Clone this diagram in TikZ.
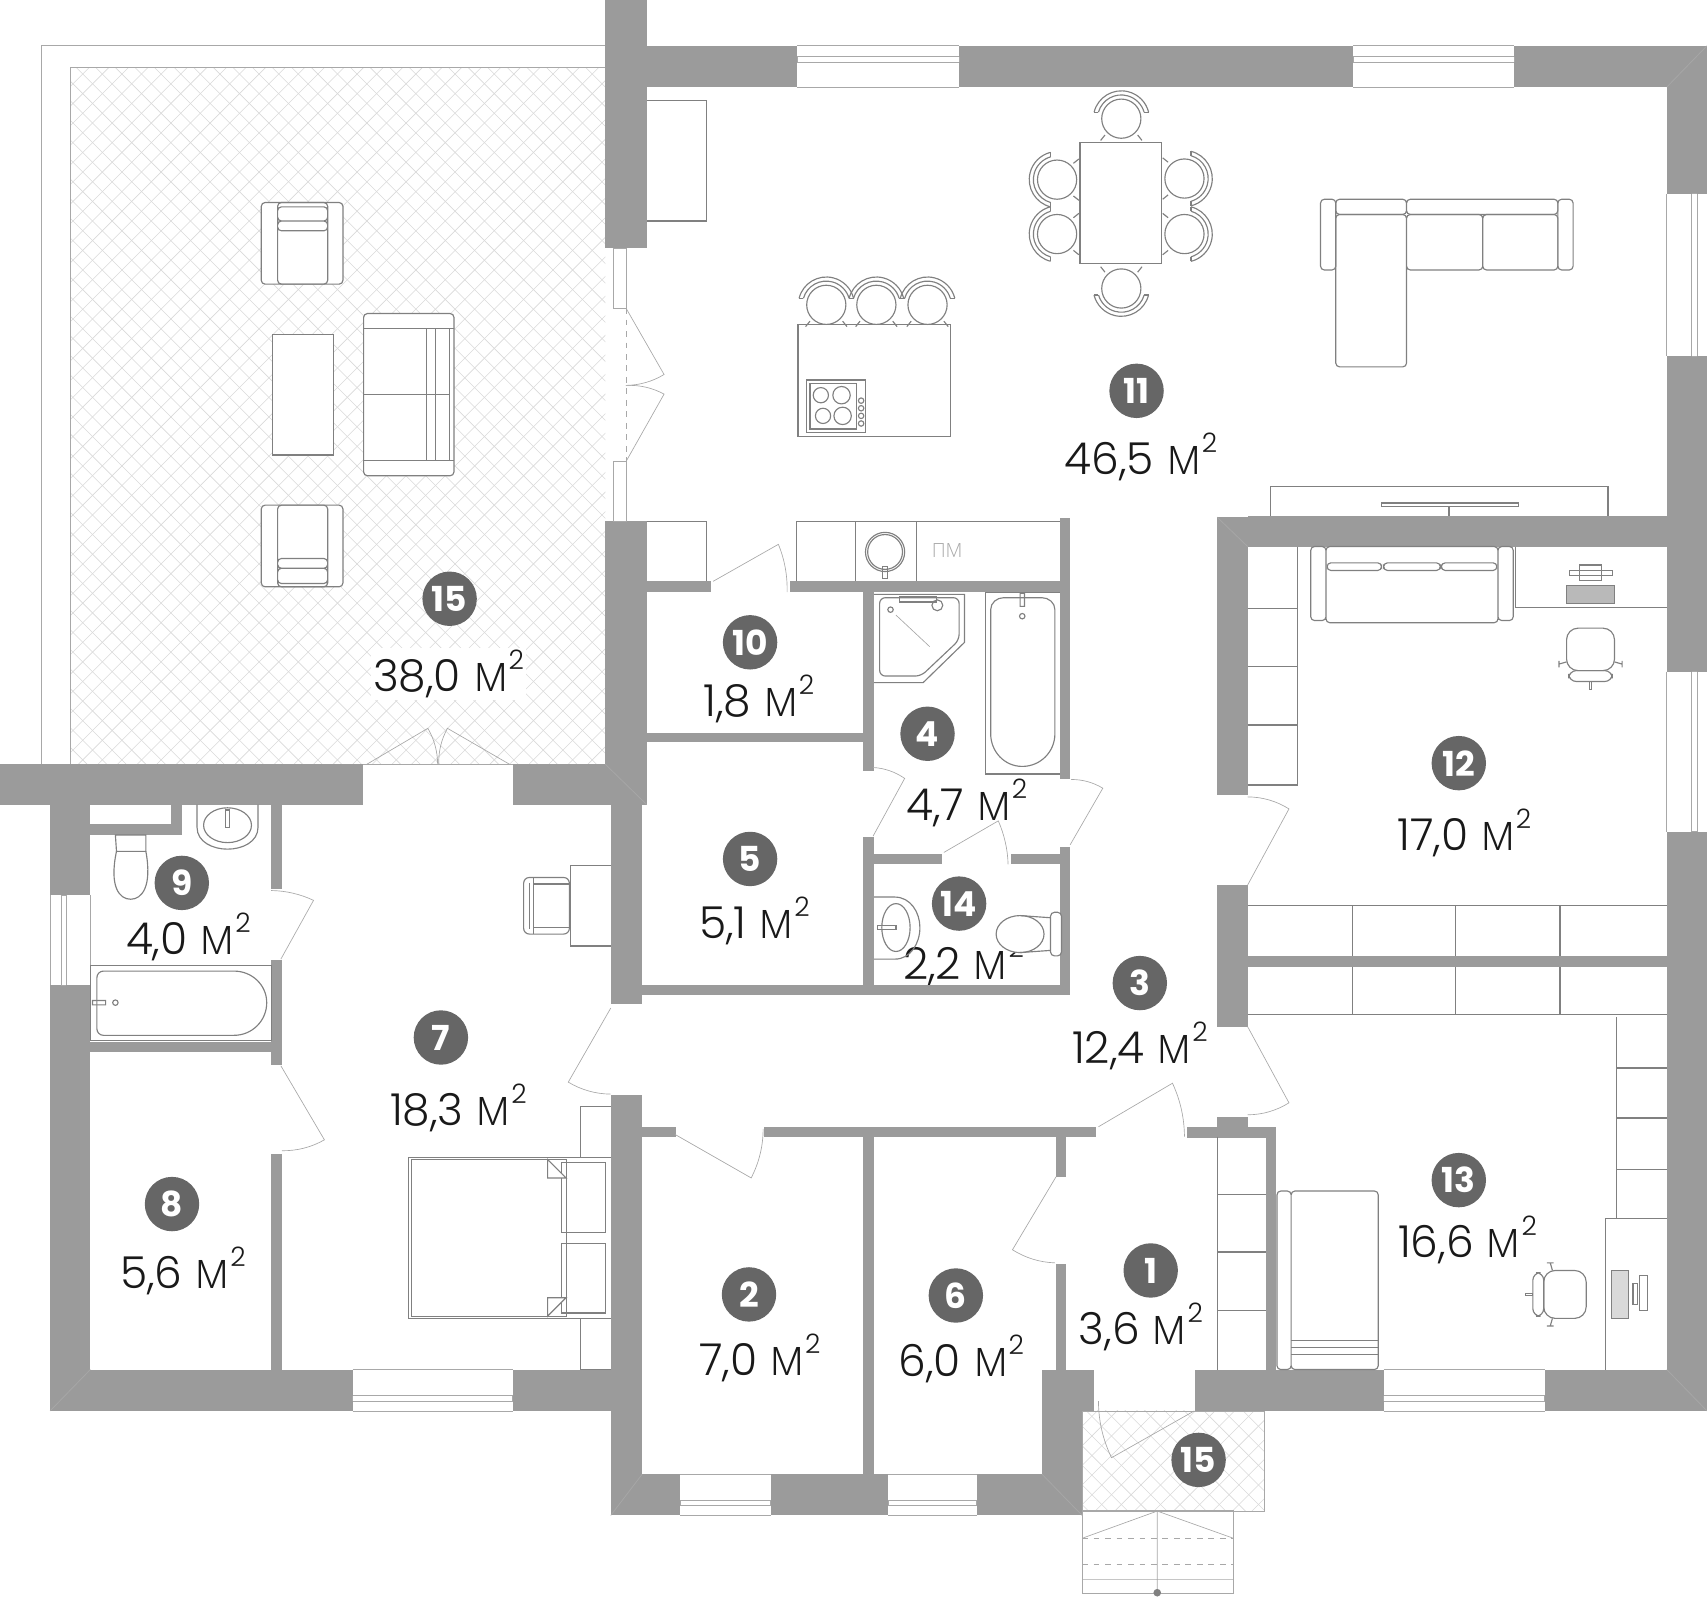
\documentclass[tikz,border=0pt]{standalone}
\usepackage{fontspec}
\setmainfont{Poppins}[UprightFont=* Light,BoldFont=* Bold]
\newfontfamily\unitfont[Scale=1.2]{Open Sans Light}
\usetikzlibrary{calc}
\definecolor{wallgray}{HTML}{9B9B9B}
\definecolor{badgegray}{HTML}{666666}
\definecolor{furngray}{HTML}{808080}
\definecolor{thingray}{HTML}{A8A8A8}
\definecolor{hatchgray}{HTML}{D9D9D9}
\tikzset{
wall/.style={fill=wallgray,draw=none},
furn/.style={draw=furngray,line width=0.6pt},
furnw/.style={furn,fill=white},
thinline/.style={draw=thingray,line width=0.35pt},
hatchline/.style={draw=hatchgray,line width=0.3pt},
badge/.style={shape=circle,fill=badgegray,text=white,minimum size=1cm,inner sep=0pt,font=\bfseries\fontsize{18}{18}\selectfont},
areatext/.style={inner sep=1pt,text=black!90,font=\fontsize{23}{23}\selectfont},
chair/.pic={
\draw[furn] (0,0) circle (18);
\draw[furn] (-25,-6) arc (194:346:25.8);
\draw[furn] (-21,-6) arc (196:344:21.8);
\draw[furn] (-25,-6) -- (-21,-6) (25,-6) -- (21,-6);
\draw[furn] (-15,15) -- (-19,20) (15,15) -- (19,20);
},
officechair/.pic={
\draw[furn,rounded corners=6] (-22,-21) rectangle (22,18);
\draw[furn,rounded corners=4] (-20,18) rectangle (20,28);
\draw[furn] (-22,10) -- (-29,12) (22,10) -- (29,12) (-29,9) -- (-29,15) (29,9) -- (29,15);
\draw[furn] (-1,28) rectangle (1,35);
}
}
\newcommand{\door}[3]{
\path #1 coordinate (dh) #2 coordinate (dt) #3 coordinate (de);
\coordinate (dc) at ($(dh)+0.536*(dt)-0.536*(dh)+0.536*(de)-0.536*(dh)$);
\draw[thinline] (dh) -- (dt) .. controls ($(dt)!0.667!(dc)$) and ($(de)!0.667!(dc)$) .. (de);
}
\newcommand{\hwin}[5]{
\fill[white] (#1,#3) rectangle (#2,#4);
\draw[thinline] (#1,#3) -- (#2,#3) (#1,#4) -- (#2,#4) (#1,#5) -- (#2,#5) (#1,#5+5) -- (#2,#5+5);
\draw[thinline] (#1,#5) -- (#1,#5+5) (#2,#5) -- (#2,#5+5);
}
\newcommand{\vwin}[5]{
\fill[white] (#3,#1) rectangle (#4,#2);
\draw[thinline] (#3,#1) -- (#3,#2) (#4,#1) -- (#4,#2) (#5,#1) -- (#5,#2) (#5+5,#1) -- (#5+5,#2);
\draw[thinline] (#5,#1) -- (#5+5,#1) (#5,#2) -- (#5+5,#2);
}
\newcommand{\hatcharea}[4]{
\begin{scope}
\clip (#1,#2) rectangle (#3,#4);
\foreach \d in {-1000,-982,...,1300} {\draw[hatchline] (\d,0) -- +(1500,1500);}
\foreach \d in {0,18,...,2700} {\draw[hatchline] (\d,0) -- +(-1500,1500);}
\end{scope}
\draw[thinline] (#1,#4) -- (#1,#2) -- (#3,#2);
}
\newcommand{\areatxt}[1]{#1 {\unitfont м}\raisebox{0.5em}{\fontsize{14}{14}\selectfont 2}}
\begin{document}
\begin{tikzpicture}[x=0.02cm,y=-0.02cm]
\useasboundingbox (0,0) rectangle (1568,1468);
% terraces
\hatcharea{65}{62}{556}{702}
\hatcharea{994}{1296}{1161}{1388}
\draw[thinline] (994,1388) -- (1161,1388) -- (1161,1296);
\draw[thinline] (38,702) -- (38,42) -- (556,42);
% room 14 text lies under the toilet
\node[areatext] (t14) at (885,884) {\areatxt{2,2}};
% outer walls
\fill[wall] (556,0) rectangle (594,228);
\fill[wall] (594,42) rectangle (732,80);
\fill[wall] (881,42) rectangle (1243,80);
\fill[wall] (1391,42) rectangle (1568,80);
\fill[wall] (1531,80) rectangle (1568,178);
\fill[wall] (1531,327) rectangle (1568,617);
\fill[wall] (1531,764) rectangle (1568,1296);
\fill[wall] (1098,1258) rectangle (1271,1296);
\fill[wall] (1419,1258) rectangle (1531,1296);
\fill[wall] (957,1258) rectangle (1005,1296);
\fill[wall] (957,1296) rectangle (994,1392);
\fill[wall] (897,1354) rectangle (957,1392);
\fill[wall] (708,1354) rectangle (816,1392);
\fill[wall] (561,1354) rectangle (625,1392);
\fill[wall] (561,1006) rectangle (590,1354);
\fill[wall] (46,1258) rectangle (324,1296);
\fill[wall] (471,1258) rectangle (561,1296);
\fill[wall] (46,739) rectangle (83,822);
\fill[wall] (46,905) rectangle (83,1258);
\fill[wall] (0,702) rectangle (333,739);
\fill[wall] (471,702) rectangle (556,739);
\fill[wall] (556,479) rectangle (594,739);
\fill[wall] (561,739) rectangle (590,922);
% inner walls
\fill[wall] (793,1044) rectangle (803,1354);
\fill[wall] (590,905) rectangle (983,914);
\fill[wall] (974,778) rectangle (983,905);
\fill[wall] (793,769) rectangle (803,905);
\fill[wall] (803,784) rectangle (865,794);
\fill[wall] (929,784) rectangle (974,794);
\fill[wall] (974,476) rectangle (983,716);
\fill[wall] (793,544) rectangle (803,708);
\fill[wall] (726,534) rectangle (974,544);
\fill[wall] (594,534) rectangle (653,544);
\fill[wall] (594,673) rectangle (793,682);
\fill[wall] (1118,475) rectangle (1146,730);
\fill[wall] (1146,474) rectangle (1531,502);
\fill[wall] (1118,813) rectangle (1146,943);
\fill[wall] (1146,878) rectangle (1531,888);
\fill[wall] (1118,1026) rectangle (1146,1035);
\fill[wall] (1090,1035) rectangle (1172,1045);
\fill[wall] (1163,1045) rectangle (1172,1258);
\fill[wall] (590,1035) rectangle (621,1044);
\fill[wall] (702,1035) rectangle (1007,1044);
\fill[wall] (970,1044) rectangle (979,1081);
\fill[wall] (970,1161) rectangle (979,1258);
\fill[wall] (249,739) rectangle (259,817);
\fill[wall] (249,882) rectangle (259,978);
\fill[wall] (249,1060) rectangle (259,1258);
\fill[wall] (83,957) rectangle (249,966);
\fill[wall] (83,757) rectangle (167,767);
\fill[wall] (157,739) rectangle (167,767);
% wall corners
\draw[thinline] (1531,80) -- (1568,42) (556,702) -- (594,739) (1118,475) -- (1146,502) (46,1296) -- (83,1258) (561,1392) -- (590,1354) (957,1354) -- (994,1392) (1531,1258) -- (1568,1296);
% windows
\hwin{732}{881}{42}{80}{52}
\hwin{1243}{1391}{42}{80}{52}
\hwin{324}{471}{1258}{1296}{1282}
\hwin{1271}{1419}{1258}{1296}{1282}
\hwin{625}{708}{1354}{1392}{1378}
\hwin{816}{897}{1354}{1392}{1378}
\vwin{178}{327}{1531}{1568}{1554}
\vwin{617}{764}{1531}{1568}{1554}
\vwin{822}{905}{46}{83}{56}
\draw[thinline] (563,228) rectangle (575,283) (563,424) rectangle (575,479);
\draw[thinline,dashed] (575,283) -- (575,424);
% doors
\door{(337,702)}{(393,669)}{(402,702)}
\door{(468,702)}{(411,669)}{(403,702)}
\draw[thinline] (333,702) -- (471,702);
\door{(575,283)}{(610,344)}{(575,354)}
\door{(575,424)}{(610,362)}{(575,354)}
\door{(655,534)}{(715,500)}{(723,544)}
\door{(802,768)}{(831,715)}{(802,705)}
\door{(983,776)}{(1013,724)}{(984,716)}
\door{(867,783)}{(917,754)}{(926,794)}
\door{(1146,813)}{(1184,743)}{(1146,732)}
\door{(1146,943)}{(1184,1013)}{(1146,1024)}
\door{(1009,1035)}{(1077,995)}{(1088,1044)}
\door{(970,1081)}{(930,1148)}{(969,1160)}
\door{(1097,1296)}{(1021,1339)}{(1009,1287)}
\door{(620,1042)}{(690,1082)}{(701,1037)}
\door{(561,926)}{(522,994)}{(561,1005)}
\door{(258,881)}{(288,827)}{(249,818)}
\door{(258,979)}{(298,1047)}{(259,1057)}
% terrace furniture
\draw[furnw] (250,307) rectangle (306,418);
\draw[furnw,rounded corners=2] (240,186) rectangle (315,261);
\draw[furn,rounded corners=2] (255,186) rectangle (301,261) (255,190) rectangle (301,203) (255,203) rectangle (301,212);
\draw[furnw,rounded corners=2] (240,464) rectangle (315,539);
\draw[furn,rounded corners=2] (255,464) rectangle (301,539) (255,513) rectangle (301,522) (255,522) rectangle (301,536);
\draw[furnw,rounded corners=2] (334,288) rectangle (417,437);
\draw[furn] (334,302) -- (417,302) (334,423) -- (417,423) (334,362) -- (413,362);
\draw[furn] (392,302) -- (392,423) (400,302) -- (400,423) (413,302) -- (413,423);
% kitchen and living room
\draw[furn] (594,92) -- (649,92) -- (649,203) -- (594,203);
\draw[furn] (594,479) -- (649,479) -- (649,534);
\draw[furn] (733,298) rectangle (873,401);
\draw[furn] (741,349) rectangle (795,397) (744,352) rectangle (787,394);
\draw[furn] (754,363) circle (7) (773,363) circle (8) (756,382) circle (7) (774,382) circle (8);
\draw[furn] (791,368) circle (2.5) (791,375) circle (2.5) (791,382) circle (2.5) (791,389) circle (2.5);
\pic at (759,280) {chair};
\pic at (805,280) {chair};
\pic at (852,280) {chair};
\draw[furn] (992,131) rectangle (1067,242);
\pic at (1030,109) {chair};
\pic[rotate=180] at (1030,265) {chair};
\pic[rotate=90] at (971,165) {chair};
\pic[rotate=90] at (971,215) {chair};
\pic[rotate=-90] at (1088,164) {chair};
\pic[rotate=-90] at (1088,215) {chair};
\draw[furn,rounded corners=2] (1213,183) rectangle (1227,248) (1431,183) rectangle (1445,248);
\draw[furn,rounded corners=2] (1227,183) rectangle (1292,197) (1292,183) rectangle (1431,197);
\draw[furn,rounded corners=2] (1292,197) rectangle (1362,248) (1362,197) rectangle (1431,248) (1227,197) rectangle (1292,337);
\draw[furn] (1167,474) -- (1167,447) -- (1477,447) -- (1477,474);
\draw[furn] (1269,462) rectangle (1395,465) (1331,465) -- (1331,474);
% utility counter
\draw[furn] (732,534) -- (732,479) -- (974,479);
\draw[furn] (786,479) -- (786,534) (842,479) -- (842,534);
\draw[furn] (813,507) circle (18) (813,507) circle (16);
\draw[furn] (811,520) rectangle (815,531);
\node[inner sep=0pt,text=thingray,font=\unitfont\fontsize{8.5}{9}\selectfont] (pm) at (870,506) {ПМ};
% bathroom 4
\draw[furn] (803,546) -- (886,546) -- (886,590) -- (848,627) -- (803,627);
\draw[furn,rounded corners=3] (808,549) -- (881,549) -- (881,588) -- (846,621) -- (808,621) -- cycle;
\draw[thinline] (823,565) -- (854,594);
\draw[furn] (826,548) rectangle (860,553);
\draw[furn] (818,560) circle (2.5) (861,556) circle (5);
\draw[furn] (905,711) -- (905,544) -- (974,544) (905,711) -- (974,711);
\draw[furn] (910,674) -- (910,560) to[out=90,in=180] (922,549) -- (957,549) to[out=0,in=90] (969,560) -- (969,674) to[out=-90,in=0] (939,704) to[out=180,in=-90] (910,674);
\draw[furn] (939,566) circle (2.5) (937,545) rectangle (941,557);
% room 12
\draw[furn] (1192,502) -- (1192,721) -- (1146,721) (1146,559) -- (1192,559) (1146,612) -- (1192,612) (1146,666) -- (1192,666);
\draw[furn,rounded corners=2] (1204,502) rectangle (1218,570) (1376,502) rectangle (1390,570) (1218,502) rectangle (1376,572);
\draw[furn,rounded corners=2] (1219,517) rectangle (1269,524) (1271,517) rectangle (1323,524) (1324,517) rectangle (1375,524);
\draw[furn] (1392,502) -- (1392,558) -- (1531,558);
\draw[furn] (1451,519) rectangle (1471,533) (1442,524) rectangle (1481,529);
\draw[furn,fill=furngray!55] (1439,538) rectangle (1483,554);
\pic at (1461,598) {officechair};
% storage rows
\draw[furn] (1146,832) -- (1531,832) (1146,932) -- (1531,932);
\draw[furn] (1242,832) -- (1242,878) (1337,832) -- (1337,878) (1433,832) -- (1433,878);
\draw[furn] (1242,888) -- (1242,932) (1337,888) -- (1337,932) (1433,888) -- (1433,932);
% room 13
\draw[furn] (1485,934) -- (1485,1119) (1485,981) -- (1531,981) (1485,1027) -- (1531,1027) (1485,1074) -- (1531,1074);
\draw[furn] (1531,1119) -- (1475,1119) -- (1475,1258);
\draw[furn,fill=furngray!30] (1480,1167) rectangle (1496,1211);
\draw[furn] (1500,1179) rectangle (1504,1198) (1506,1172) rectangle (1513,1204);
\pic[rotate=-90] at (1436,1189) {officechair};
\draw[furn,rounded corners=2] (1173,1094) rectangle (1186,1258) (1186,1094) rectangle (1266,1258);
\draw[furn] (1186,1231) -- (1266,1231) (1186,1238) -- (1266,1238) (1186,1244) -- (1266,1244);
\draw[furn] (1118,1044) -- (1118,1258) (1118,1097) -- (1163,1097) (1118,1150) -- (1163,1150) (1118,1204) -- (1163,1204);
% bathroom 9
\draw[furn] (181,739) -- (181,760) to[out=-90,in=180] (209,780) to[out=0,in=-90] (237,760) -- (237,739);
\draw[furn] (209,758) ellipse (22 and 16);
\draw[furn] (207,744) rectangle (211,760);
\draw[furn] (106,767) -- (134,767) -- (134,782) -- (107,782) -- cycle;
\draw[furn] (107,782) .. controls (100,815) and (110,826) .. (120,826) .. controls (130,826) and (140,815) .. (134,782);
\draw[furn] (83,887) rectangle (249,956);
\draw[furn] (95,892) -- (215,892) to[out=0,in=90] (245,921) to[out=-90,in=0] (215,951) -- (95,951) to[out=180,in=-90] (89,945) -- (89,898) to[out=90,in=180] (95,892);
\draw[furn] (106,921) circle (2.5) (85,919) rectangle (97,923);
% bathroom 14
\draw[furn] (803,824) -- (822,824) to[out=0,in=90] (845,852) to[out=-90,in=0] (822,881) -- (803,881);
\draw[furn] (823,852) ellipse (13 and 22);
\draw[furn] (806,850) rectangle (823,854);
\draw[furnw] (937,858) ellipse (22 and 17);
\draw[furnw,rounded corners=2] (965,838) rectangle (975,878);
\draw[furn] (937,841) -- (965,843) (937,875) -- (965,873);
% room 7
\draw[furn] (561,795) -- (524,795) -- (524,869) -- (561,869);
\draw[furn,rounded corners=3] (481,806) rectangle (523,858);
\draw[furn] (486,811) -- (486,853) (490,806) -- (490,858) (490,812) -- (523,812) (490,852) -- (523,852);
\draw[furn] (561,1063) -- (375,1063) -- (375,1211) -- (561,1211);
\draw[furn] (520,1065) -- (378,1065) -- (378,1209) -- (520,1209) -- cycle;
\draw[furn] (516,1068) rectangle (556,1132) (516,1142) rectangle (556,1206);
\draw[furnw] (503,1065) -- (520,1082) -- (503,1082) -- cycle (503,1209) -- (520,1192) -- (503,1192) -- cycle;
\draw[furn] (561,1016) -- (533,1016) -- (533,1063) (533,1211) -- (533,1258) -- (561,1258);
% steps
\draw[furn,draw=thingray] (994,1388) rectangle (1133,1464);
\draw[thinline] (994,1413) -- (1063,1388) -- (1133,1413) (994,1451) -- (1133,1451) (1063,1388) -- (1063,1464);
\draw[thinline,dashed] (994,1437) -- (1133,1437) (994,1413) -- (1133,1413);
\fill[furngray] (1063,1463) circle (3.5);
% numbers and areas
\node[areatext,fill=white] (t15) at (412,619) {\areatxt{38,0}};
\node[badge] (b15) at (413,550) {15};
\node[badge] (b10) at (689,590) {10};
\node[areatext] (t10) at (697,642) {\areatxt{1,8}};
\node[badge] (b11) at (1044,359) {11};
\node[areatext] (t11) at (1048,420) {\areatxt{46,5}};
\node[badge] (b4) at (852,674) {4};
\node[areatext] (t4) at (888,738) {\areatxt{4,7}};
\node[badge] (b12) at (1340,701) {12};
\node[areatext] (t12) at (1345,765) {\areatxt{17,0}};
\node[badge] (b5) at (689,789) {5};
\node[areatext] (t5) at (693,846) {\areatxt{5,1}};
\node[badge] (b14) at (881,830) {14};
\node[badge] (b3) at (1047,903) {3};
\node[areatext] (t3) at (1047,961) {\areatxt{12,4}};
\node[badge] (b9) at (167,811) {9};
\node[areatext] (t9) at (173,861) {\areatxt{4,0}};
\node[badge] (b7) at (405,953) {7};
\node[areatext] (t7) at (421,1018) {\areatxt{18,3}};
\node[badge] (b8) at (158,1106) {8};
\node[areatext] (t8) at (168,1167) {\areatxt{5,6}};
\node[badge] (b2) at (688,1189) {2};
\node[areatext] (t2) at (698,1247) {\areatxt{7,0}};
\node[badge] (b6) at (878,1190) {6};
\node[areatext] (t6) at (883,1248) {\areatxt{6,0}};
\node[badge] (b1) at (1057,1167) {1};
\node[areatext] (t1) at (1048,1219) {\areatxt{3,6}};
\node[badge] (b13) at (1340,1084) {13};
\node[areatext] (t13) at (1348,1139) {\areatxt{16,6}};
\node[badge] (b16) at (1101,1341) {15};
\end{tikzpicture}
\end{document}
